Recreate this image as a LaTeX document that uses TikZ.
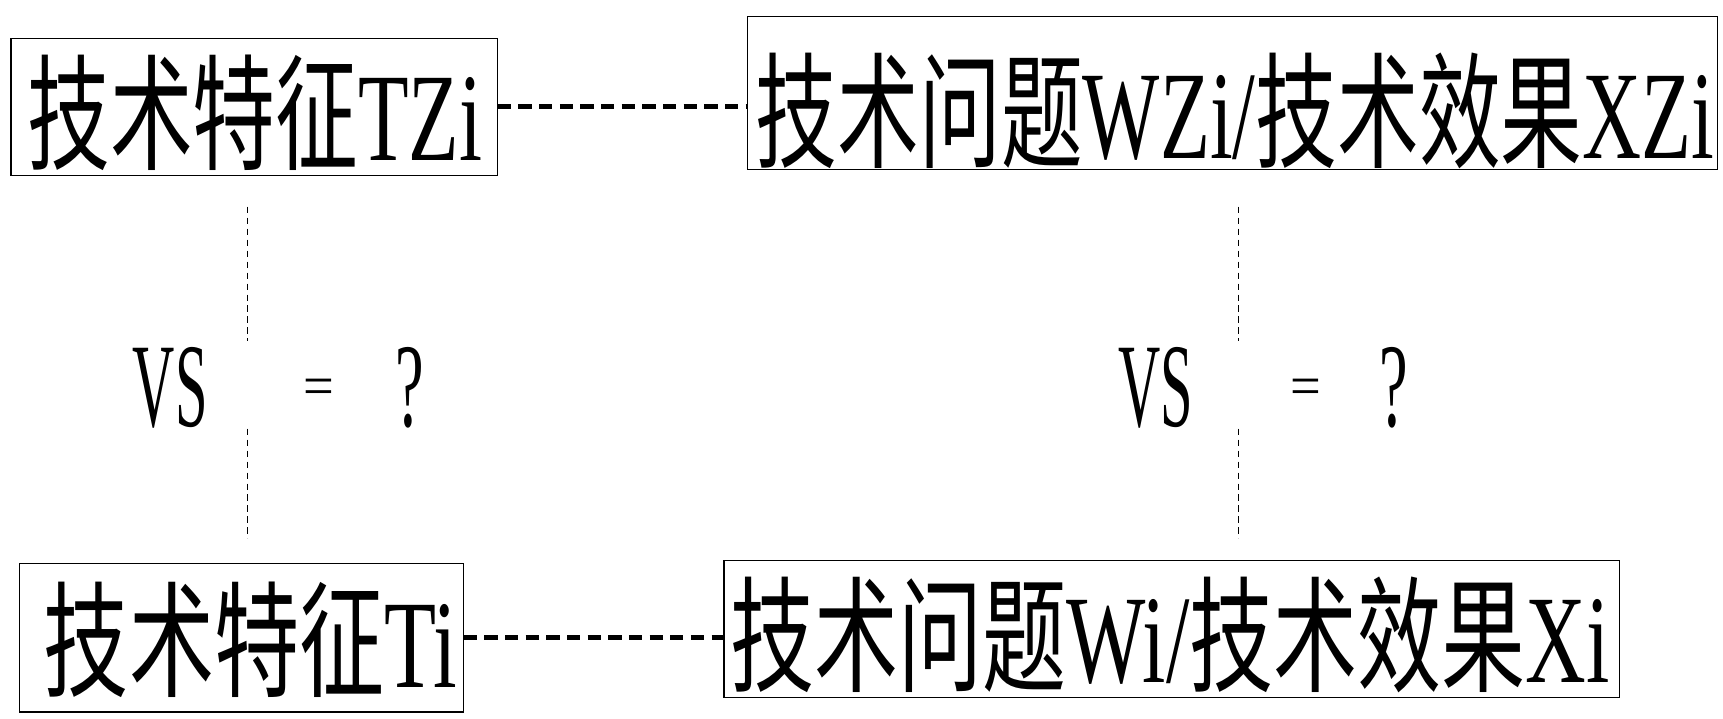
\documentclass[tikz,border=0pt]{standalone}
\usepackage{fontspec}
\setmainfont{Liberation Serif}
\newfontfamily\cjk{Noto Sans CJK SC}[Scale=1]
\begin{document}
\begin{tikzpicture}[x=0.5pt,y=-0.5pt,
  box/.style={draw,line width=0.6pt},
  txt/.style={inner sep=0pt},
  link/.style={line width=2.2pt,dash pattern=on 6pt off 3.4pt},
  vline/.style={line width=0.4pt,dash pattern=on 3pt off 2pt}]
\useasboundingbox (0,0) rectangle (1568,654);
\draw[box] (10,35) rectangle (453,160);
\draw[box] (680,15) rectangle (1563,154);
\draw[box] (18,513) rectangle (422,648);
\draw[box] (659,510) rectangle (1474,635);
\node[txt] (a) at (232,103) {\resizebox{207pt}{48pt}{{\cjk 技术特征}TZi}};
\node[txt] (b) at (1124,101) {\resizebox{436pt}{48pt}{{\cjk 技术问题}WZi/{\cjk 技术效果}XZi}};
\node[txt] (c) at (228,582) {\resizebox{188pt}{48pt}{{\cjk 技术特征}Ti}};
\node[txt] (d) at (1065,578) {\resizebox{400pt}{48pt}{{\cjk 技术问题}Wi/{\cjk 技术效果}Xi}};
\coordinate (a1) at (453,97); \coordinate (b1) at (680,97);
\coordinate (c1) at (422,580); \coordinate (d1) at (659,580);
\draw[link] (a1) -- (b1);
\draw[link] (c1) -- (d1);
\coordinate (p1) at (225,188); \coordinate (p2) at (225,310);
\coordinate (p3) at (225,390); \coordinate (p4) at (225,490);
\coordinate (q1) at (1127,188); \coordinate (q2) at (1127,310);
\coordinate (q3) at (1127,390); \coordinate (q4) at (1127,490);
\draw[vline] (p1)--(p2); \draw[vline] (p3)--(p4);
\draw[vline] (q1)--(q2); \draw[vline] (q3)--(q4);
\node[txt] (v1) at (155,353) {\resizebox{34pt}{36pt}{VS}};
\node[txt] (e1) at (290,357) {\resizebox{14pt}{12pt}{=}};
\node[txt] (s1) at (373,353) {\resizebox{13pt}{36pt}{?}};
\node[txt] (v2) at (1052,353) {\resizebox{34pt}{36pt}{VS}};
\node[txt] (e2) at (1188,357) {\resizebox{14pt}{12pt}{=}};
\node[txt] (s2) at (1268,353) {\resizebox{13pt}{36pt}{?}};
\end{tikzpicture}
\end{document}
